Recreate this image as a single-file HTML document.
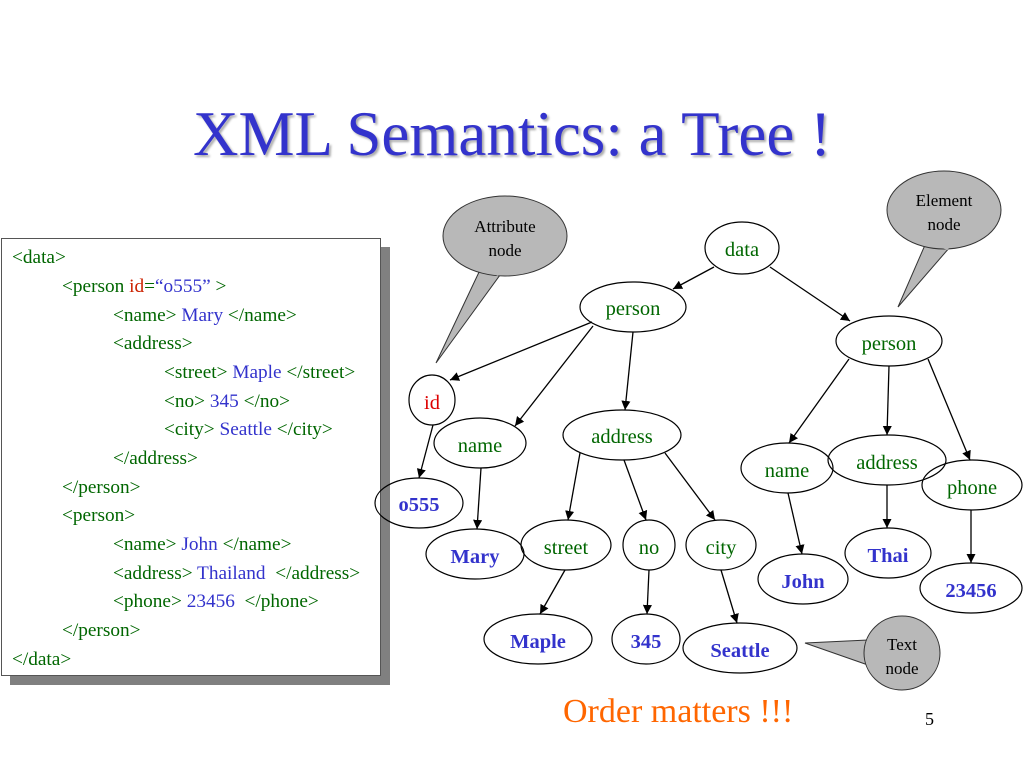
<!DOCTYPE html>
<html><head><meta charset="utf-8"><style>
body{margin:0;width:1024px;height:768px;background:#fff;overflow:hidden;position:relative;font-family:"Liberation Serif",serif}
.title{position:absolute;left:0;width:1024px;top:98px;text-align:center;font-size:63px;color:#3333cc;text-shadow:2px 2px 2px #aaa}
.box{position:absolute;left:1px;top:238px;width:378px;height:436px;background:#fff;border:1px solid #555;box-shadow:9px 9px 0 #808080}
.l{position:absolute;font-size:19.3px;color:#006600;white-space:pre}
.b{color:#3333cc}.r{color:#cc2200}.k{color:#000}
</style></head><body>
<div class="title">XML Semantics: a Tree !</div>
<div class="box">
<div class="l" style="left:10px;top:8px">&lt;data&gt;</div>
<div class="l" style="left:60px;top:37px">&lt;person <span class="r">id</span>=<span class="b">“o555”</span> &gt;</div>
<div class="l" style="left:111px;top:66px">&lt;name&gt; <span class="b">Mary</span> &lt;/name&gt;</div>
<div class="l" style="left:111px;top:94px">&lt;address&gt;</div>
<div class="l" style="left:162px;top:123px">&lt;street&gt; <span class="b">Maple</span> &lt;/street&gt;</div>
<div class="l" style="left:162px;top:152px">&lt;no&gt; <span class="b">345</span> &lt;/no&gt;</div>
<div class="l" style="left:162px;top:180px">&lt;city&gt; <span class="b">Seattle</span> &lt;/city&gt;</div>
<div class="l" style="left:111px;top:209px">&lt;/address&gt;</div>
<div class="l" style="left:60px;top:238px">&lt;/person&gt;</div>
<div class="l" style="left:60px;top:266px">&lt;person&gt;</div>
<div class="l" style="left:111px;top:295px">&lt;name&gt; <span class="b">John</span> &lt;/name&gt;</div>
<div class="l" style="left:111px;top:324px">&lt;address&gt; <span class="b">Thailand</span>  &lt;/address&gt;</div>
<div class="l" style="left:111px;top:352px">&lt;phone&gt; <span class="b">23456</span>  &lt;/phone&gt;</div>
<div class="l" style="left:60px;top:381px">&lt;/person&gt;</div>
<div class="l" style="left:10px;top:410px">&lt;/data&gt;</div>
</div>
<svg width="1024" height="768" style="position:absolute;left:0;top:0" font-family="Liberation Serif, serif">
<defs><marker id="a" viewBox="0 0 10 10" refX="10" refY="5" markerWidth="7" markerHeight="7" orient="auto"><path d="M0,0L10,5L0,10z" fill="#000"/></marker></defs>
<g fill="#b8b8b8" stroke="#333" stroke-width="1">
<path d="M480,270 L436,363 L500,275z"/><ellipse cx="505" cy="236" rx="62" ry="40"/>
<path d="M925,245 L898,307 L950,247z"/><ellipse cx="944" cy="210" rx="57" ry="39"/>
<path d="M868,640 L805,643 L868,665z"/><ellipse cx="902" cy="653" rx="38" ry="37"/>
</g>
<g fill="#b8b8b8"><path d="M481,268 L500,273 L498,276z"/><path d="M926,243 L950,245 L948,250z"/><path d="M866,641 L866,664 L870,664z"/></g>
<g font-size="17" text-anchor="middle" fill="#000">
<text x="505" y="232">Attribute</text><text x="505" y="256">node</text>
<text x="944" y="206">Element</text><text x="944" y="230">node</text>
<text x="902" y="650">Text</text><text x="902" y="674">node</text>
</g>
<g stroke="#000" stroke-width="1.3" marker-end="url(#a)">
<line x1="714" y1="267" x2="673" y2="289"/>
<line x1="770" y1="267" x2="850" y2="321"/>
<line x1="592" y1="322" x2="450" y2="380"/>
<line x1="593" y1="326" x2="515" y2="426"/>
<line x1="633" y1="332" x2="625" y2="410"/>
<line x1="433" y1="425" x2="419" y2="478"/>
<line x1="481" y1="468" x2="477" y2="529"/>
<line x1="580" y1="453" x2="568" y2="520"/>
<line x1="624" y1="460" x2="646" y2="520"/>
<line x1="665" y1="453" x2="715" y2="520"/>
<line x1="565" y1="570" x2="540" y2="614"/>
<line x1="649" y1="570" x2="647" y2="614"/>
<line x1="721" y1="570" x2="737" y2="623"/>
<line x1="849" y1="359" x2="789" y2="443"/>
<line x1="889" y1="366" x2="887" y2="435"/>
<line x1="928" y1="359" x2="970" y2="460"/>
<line x1="788" y1="493" x2="802" y2="554"/>
<line x1="887" y1="485" x2="887" y2="528"/>
<line x1="971" y1="510" x2="971" y2="563"/>
</g>
<g fill="none" stroke="#000" stroke-width="1.2">
<ellipse cx="742" cy="248" rx="37" ry="26"/>
<ellipse cx="633" cy="307" rx="53" ry="25"/>
<ellipse cx="889" cy="341" rx="53" ry="25"/>
<ellipse cx="432" cy="400" rx="23" ry="25"/>
<ellipse cx="480" cy="443" rx="46" ry="25"/>
<ellipse cx="622" cy="435" rx="59" ry="25"/>
<ellipse cx="419" cy="503" rx="44" ry="25"/>
<ellipse cx="475" cy="554" rx="49" ry="25"/>
<ellipse cx="566" cy="545" rx="45" ry="25"/>
<ellipse cx="649" cy="545" rx="26" ry="25"/>
<ellipse cx="721" cy="545" rx="35" ry="25"/>
<ellipse cx="538" cy="639" rx="54" ry="25"/>
<ellipse cx="646" cy="639" rx="34" ry="25"/>
<ellipse cx="740" cy="648" rx="57" ry="25"/>
<ellipse cx="787" cy="468" rx="46" ry="25"/>
<ellipse cx="887" cy="460" rx="59" ry="25"/>
<ellipse cx="972" cy="485" rx="50" ry="25"/>
<ellipse cx="803" cy="579" rx="45" ry="25"/>
<ellipse cx="888" cy="553" rx="43" ry="25"/>
<ellipse cx="971" cy="588" rx="51" ry="25"/>
</g>
<g font-size="20.5" text-anchor="middle" fill="#006600">
<text x="742" y="256">data</text>
<text x="633" y="315">person</text>
<text x="889" y="350">person</text>
<text x="432" y="409" fill="#dd0000">id</text>
<text x="480" y="452">name</text>
<text x="622" y="443">address</text>
<text x="566" y="554">street</text>
<text x="649" y="554">no</text>
<text x="721" y="554">city</text>
<text x="787" y="477">name</text>
<text x="887" y="469">address</text>
<text x="972" y="494">phone</text>
</g>
<g font-size="20.5" font-weight="bold" text-anchor="middle" fill="#3333cc">
<text x="419" y="511">o555</text>
<text x="475" y="563">Mary</text>
<text x="538" y="648">Maple</text>
<text x="646" y="648">345</text>
<text x="740" y="657">Seattle</text>
<text x="803" y="588">John</text>
<text x="888" y="562">Thai</text>
<text x="971" y="597">23456</text>
</g>
<text x="563" y="722" font-size="34" fill="#ff6600">Order matters !!!</text>
<text x="925" y="725" font-size="18" fill="#000">5</text>
</svg>
</body></html>
